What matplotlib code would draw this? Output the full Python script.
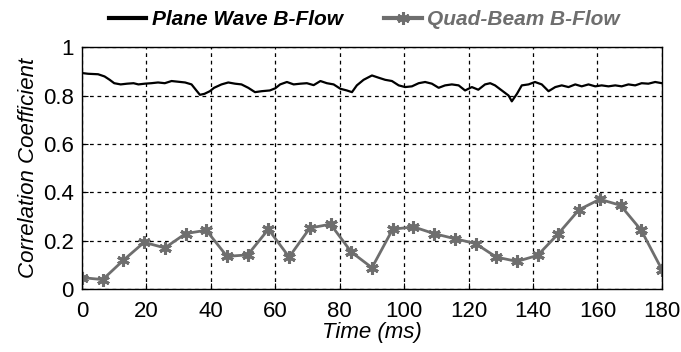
import matplotlib
matplotlib.use("Agg")
import matplotlib.pyplot as plt
import numpy as np

plt.rcParams['font.family'] = ['Liberation Sans', 'DejaVu Sans']

# Plane Wave B-Flow (dense)
pw_t = [0, 1.9, 5, 7, 8.6, 10, 12, 14, 16, 17.5, 19.5, 21.5, 23.6, 25.7, 27.8, 29.9,
        32, 34, 35.5, 36.6, 38, 39.7, 41, 43.3, 45.4, 47.5, 49.5, 51.6, 53.7, 55.8,
        58.3, 60, 61.5, 63.6, 65.7, 67.8, 69.8, 71.9, 74, 76, 78.1, 80.2, 82.2, 83.8,
        85.3, 87.4, 90, 92, 94.1, 96.2, 98.3, 100.3, 102.4, 104.5, 106.5, 108.6, 110.7,
        112.7, 114.8, 116.9, 118.9, 121, 123, 125.1, 126.7, 128.2, 130.3, 132.4, 133.4,
        135, 136.5, 138.6, 140.6, 142.7, 144.8, 146.9, 148.9, 151, 153.1, 155.1, 157.2,
        159.3, 161.3, 163.4, 165.5, 167.5, 169.6, 171.7, 173.7, 175.8, 177.9, 180]
pw_v = [0.893, 0.890, 0.888, 0.879, 0.865, 0.851, 0.846, 0.849, 0.851, 0.846, 0.849,
        0.851, 0.854, 0.851, 0.860, 0.857, 0.854, 0.846, 0.821, 0.803, 0.807, 0.818,
        0.832, 0.846, 0.854, 0.849, 0.846, 0.832, 0.814, 0.818, 0.821, 0.830, 0.846,
        0.856, 0.846, 0.849, 0.851, 0.843, 0.860, 0.851, 0.846, 0.828, 0.821, 0.814,
        0.842, 0.865, 0.883, 0.874, 0.865, 0.860, 0.842, 0.835, 0.838, 0.851, 0.856,
        0.849, 0.832, 0.842, 0.846, 0.842, 0.821, 0.835, 0.824, 0.846, 0.851, 0.842,
        0.821, 0.800, 0.776, 0.807, 0.842, 0.846, 0.856, 0.846, 0.818, 0.835, 0.842,
        0.835, 0.846, 0.838, 0.846, 0.838, 0.842, 0.838, 0.842, 0.838, 0.846, 0.842,
        0.851, 0.849, 0.856, 0.851]

# Quad-Beam B-Flow (29 samples, 0..180 ms)
qb_t = list(np.linspace(0, 180, 29))
qb_v = [0.047, 0.039, 0.119, 0.193, 0.170, 0.229, 0.243, 0.135, 0.141, 0.247,
        0.132, 0.252, 0.268, 0.153, 0.088, 0.247, 0.257, 0.229, 0.208, 0.188,
        0.132, 0.114, 0.139, 0.229, 0.328, 0.371, 0.346, 0.243, 0.080]

xticks = [0, 20, 40, 60, 80, 100, 120, 140, 160, 180]
yticks = [0, 0.2, 0.4, 0.6, 0.8, 1]
ytick_labels = ['0', '0.2', '0.4', '0.6', '0.8', '1']

fig = plt.figure(figsize=(6.81, 3.52), dpi=100)
ax = fig.add_axes([0.1204, 0.179, 0.8516, 0.687])

gray = '#6e6e6e'
l1, = ax.plot(pw_t, pw_v, color='black', lw=1.6, label='Plane Wave B-Flow')
l2, = ax.plot(qb_t, qb_v, color=gray, lw=2.0, marker=(6, 2, 0), markersize=9,
              markeredgewidth=2.2, label='Quad-Beam B-Flow')

ax.set_xlim(0, 180)
ax.set_ylim(0, 1)
ax.set_xticks(xticks)
ax.set_yticks(yticks)
ax.set_yticklabels(ytick_labels)
ax.tick_params(direction='in', labelsize=16, length=4)
ax.tick_params(axis='x', pad=9)
ax.tick_params(axis='y', pad=6)
ax.grid(True, color='black', linestyle=(0, (3, 3)), linewidth=0.9)
for s in ax.spines.values():
    s.set_linewidth(1.0)

ax.set_xlabel('Time (ms)', fontsize=16, style='italic', labelpad=0)
ax.set_ylabel('Correlation Coefficient', fontsize=16, style='italic', labelpad=3)

leg = fig.legend(handles=[l1, l2], loc='upper center', bbox_to_anchor=(0.535, 1.025),
                 ncol=2, frameon=False, handlelength=1.8, columnspacing=2.0,
                 handletextpad=0.25, prop={'size': 15, 'weight': 'bold', 'style': 'italic'})
leg.get_lines()[0].set_linewidth(3)
leg.get_lines()[1].set_linewidth(3)
for txt, c in zip(leg.get_texts(), ['black', gray]):
    txt.set_color(c)

fig.savefig('out.png', dpi=100)
